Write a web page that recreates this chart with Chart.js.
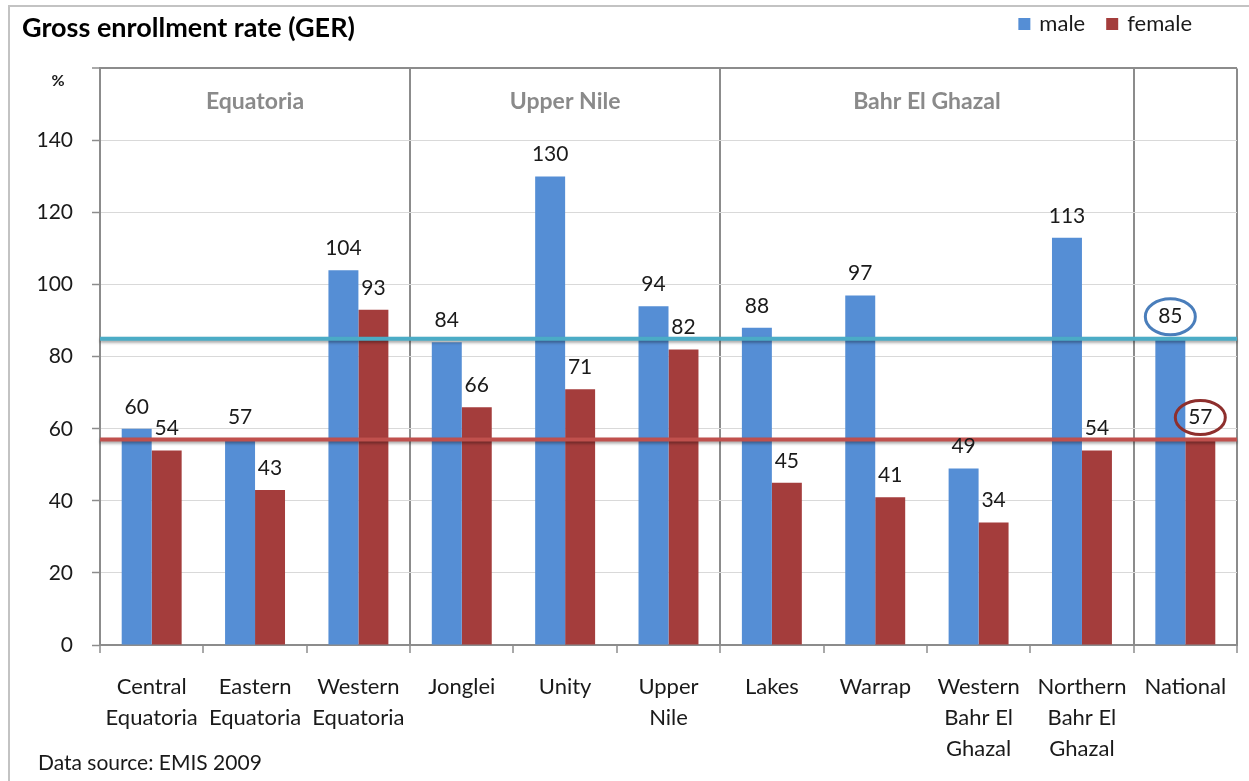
<!DOCTYPE html>
<html>
<head>
<meta charset="utf-8">
<script src="https://cdn.jsdelivr.net/npm/chart.js@4.4.0/dist/chart.umd.min.js"></script>
<style>
  html, body { margin: 0; padding: 0; background: #ffffff; }
  #wrap { width: 1249px; height: 781px; position: relative; }
</style>
</head>
<body>
<div id="wrap"><canvas id="ger" width="1249" height="781"></canvas></div>
<script>
// Gross enrollment rate by state and gender, South Sudan (EMIS 2009)
const categories = [
  ['Central', 'Equatoria'], ['Eastern', 'Equatoria'], ['Western', 'Equatoria'],
  'Jonglei', 'Unity', ['Upper', 'Nile'],
  'Lakes', 'Warrap', ['Western', 'Bahr El', 'Ghazal'], ['Northern', 'Bahr El', 'Ghazal'],
  'National'
];
const maleGER   = [60, 57, 104, 84, 130, 94, 88, 97, 49, 113, 85];
const femaleGER = [54, 43,  93, 66,  71, 82, 45, 41, 34,  54, 57];

const regionNames = ['Equatoria', 'Upper Nile', 'Bahr El Ghazal'];
const regionFirst = [0, 3, 6];      // first category of each region
const nationalIndex = 10;           // the national column

const yMin = 0, yMax = 160, yStep = 20;

const FONT = 'Lato, "Open Sans", "DejaVu Sans", sans-serif';
const TEXT = '#1a1a1a';
const FRAME = '#8c8c8c';
const maleColor = '#558ED5';
const femaleColor = '#A43D3C';
const refLineColors = ['#4BACC6', '#C0504D'];
const ringColors = ['#4A7EBB', '#8E2F2D'];

Chart.defaults.font.family = FONT;
Chart.defaults.color = TEXT;

// column boundaries that separate the regions and the national column
const separators = regionFirst.slice(1).concat([nationalIndex]);

const decorations = {
  id: 'decorations',
  beforeDraw(chart) {
    const c = chart.ctx;
    c.save();
    c.fillStyle = '#ffffff';
    c.fillRect(0, 0, chart.width, chart.height);
    // outer frame
    c.strokeStyle = '#c3c3c3';
    c.lineWidth = 2;
    c.beginPath();
    c.moveTo(9, chart.height);
    c.lineTo(9, 6);
    c.lineTo(chart.width, 6);
    c.stroke();
    // legend
    c.font = '22px ' + FONT;
    c.textBaseline = 'middle';
    c.textAlign = 'left';
    const items = chart.data.datasets.map(d => ({ label: d.label, color: d.backgroundColor, w: c.measureText(d.label).width }));
    const box = 12, gap = 9, itemGap = 21;
    let total = 0;
    items.forEach((it, i) => { total += box + gap + it.w + (i ? itemGap : 0); });
    let x = 1192 - total;
    const ly = 24;
    items.forEach((it, i) => {
      if (i) x += itemGap;
      c.fillStyle = it.color;
      c.fillRect(x, ly - box / 2, box, box);
      x += box + gap;
      c.fillStyle = TEXT;
      c.fillText(it.label, x, ly);
      x += it.w;
    });
    // source note
    c.font = '21px ' + FONT;
    c.fillStyle = TEXT;
    c.fillText('Data source: EMIS 2009', 38, 763);
    c.restore();
  },
  afterDatasetsDraw(chart) {
    const c = chart.ctx;
    const xs = chart.scales.x, ys = chart.scales.y;
    const area = chart.chartArea;
    const catW = xs.width / categories.length;
    c.save();

    // national reference lines across the plot
    chart.data.datasets.forEach((ds, d) => {
      const y = ys.getPixelForValue(ds.data[nationalIndex]);
      c.save();
      c.shadowColor = 'rgba(0,0,0,0.35)';
      c.shadowBlur = 3;
      c.shadowOffsetY = 2;
      c.strokeStyle = refLineColors[d];
      c.lineWidth = 4;
      c.beginPath();
      c.moveTo(area.left, y);
      c.lineTo(area.right, y);
      c.stroke();
      c.restore();
    });

    // value labels above bars
    c.font = '21px ' + FONT;
    c.textAlign = 'center';
    c.textBaseline = 'middle';
    chart.data.datasets.forEach((ds, d) => {
      const meta = chart.getDatasetMeta(d);
      meta.data.forEach((bar, i) => {
        const ly = bar.y - 22;
        c.fillStyle = TEXT;
        c.fillText(String(ds.data[i]), bar.x, ly);
        if (i === nationalIndex) {
          c.strokeStyle = ringColors[d];
          c.lineWidth = 3;
          c.beginPath();
          c.ellipse(bar.x, ly, 25, d === 0 ? 18 : 17, 0, 0, Math.PI * 2);
          c.stroke();
        }
      });
    });

    // region headings
    c.font = 'bold 23px ' + FONT;
    c.fillStyle = '#8a8a8a';
    regionNames.forEach((name, r) => {
      const a = regionFirst[r];
      const b = r + 1 < regionFirst.length ? regionFirst[r + 1] : nationalIndex;
      const cx = xs.left + catW * (a + b) / 2;
      c.fillText(name, cx, area.top + 33);
    });

    // unit label on the value axis
    c.font = 'bold 16px ' + FONT;
    c.fillStyle = TEXT;
    c.fillText('%', ys.right - 42, area.top + 12);
    c.restore();
  }
};

new Chart(document.getElementById('ger'), {
  type: 'bar',
  data: {
    labels: categories,
    datasets: [
      { label: 'male', data: maleGER, backgroundColor: maleColor, categoryPercentage: 0.58, barPercentage: 1.0 },
      { label: 'female', data: femaleGER, backgroundColor: femaleColor, categoryPercentage: 0.58, barPercentage: 1.0 }
    ]
  },
  options: {
    responsive: false,
    animation: false,
    devicePixelRatio: 1,
    layout: { padding: { left: 22, right: 12, top: 5, bottom: 0 } },
    plugins: {
      legend: { display: false },
      tooltip: { enabled: false },
      title: {
        display: true,
        text: 'Gross enrollment rate (GER)',
        align: 'start',
        color: '#000000',
        font: { size: 27, weight: 'bold', family: FONT },
        padding: { top: 7, bottom: 24 }
      }
    },
    scales: {
      x: {
        grid: {
          offset: true,
          color: ctx => (ctx.index === undefined || separators.includes(ctx.index)) ? FRAME : 'rgba(0,0,0,0)',
          lineWidth: 2,
          tickColor: FRAME,
          tickLength: 8,
          tickWidth: 1.5
        },
        border: { color: FRAME, width: 2 },
        ticks: {
          color: TEXT,
          font: { size: 22, lineHeight: 1.41 },
          padding: 18,
          maxRotation: 0,
          autoSkip: false
        },
        afterFit(scale) { scale.height = 136; }
      },
      y: {
        min: yMin,
        max: yMax,
        grid: {
          color: ctx => (ctx.tick && ctx.tick.value === yMax) ? FRAME : '#d9d9d9',
          lineWidth: ctx => (ctx.tick && ctx.tick.value === yMax) ? 2 : 1,
          tickColor: FRAME,
          tickLength: 8,
          tickWidth: 1.5
        },
        border: { color: FRAME, width: 2 },
        ticks: {
          stepSize: yStep,
          color: TEXT,
          font: { size: 21 },
          padding: 19,
          callback: v => (v === yMax ? '' : v)
        },
        afterFit(scale) { scale.width = 78; }
      }
    }
  },
  plugins: [decorations]
});
</script>
</body>
</html>
